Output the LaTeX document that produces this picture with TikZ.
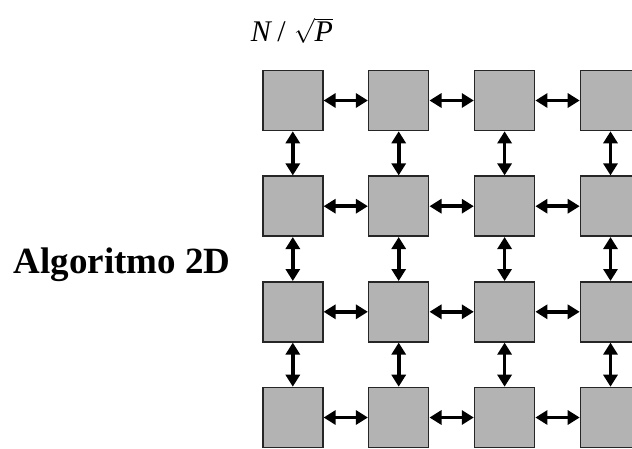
\documentclass[tikz,border=0pt]{standalone}
\usepackage{fontspec}
\setmainfont{Liberation Serif}
\usetikzlibrary{arrows.meta}
\definecolor{boxgray}{RGB}{179,179,179}
\tikzset{
  cell/.style={draw=black!85, line width=1.5pt, fill=boxgray, minimum size=60pt, inner sep=0pt, outer sep=0pt},
  link/.style={line width=3.6pt, {Triangle[length=12pt,width=14pt]}-{Triangle[length=12pt,width=14pt]}, shorten <=0.8pt, shorten >=0.8pt}
}
\begin{document}
\begin{tikzpicture}[x=1pt,y=-1pt]
\clip (0,0) rectangle (632,448);
\fill[white] (0,0) rectangle (632,448);
\foreach \r/\y in {1/100.5,2/206.2,3/311.8,4/417.5}{
  \foreach \c/\x in {1/292.8,2/398.7,3/504.6,4/610.5}{
    \node[cell] (s\r\c) at (\x,\y) {};
  }
}
\foreach \r in {1,2,3,4}{
  \draw[link] (s\r1.east) -- (s\r2.west);
  \draw[link] (s\r2.east) -- (s\r3.west);
  \draw[link] (s\r3.east) -- (s\r4.west);
}
\foreach \c in {1,2,3,4}{
  \draw[link] (s1\c.south) -- (s2\c.north);
  \draw[link] (s2\c.south) -- (s3\c.north);
  \draw[link] (s3\c.south) -- (s4\c.north);
}
\node[anchor=base, font=\fontsize{30}{34}\selectfont, inner sep=0pt] (frac) at (292,41.7) {\textit{N}\,/\;$\sqrt{\textit{P}}$};
\node[anchor=base, font=\fontsize{37}{44}\selectfont\bfseries, inner sep=0pt] (title) at (122,273) {Algoritmo 2D};
\end{tikzpicture}
\end{document}
